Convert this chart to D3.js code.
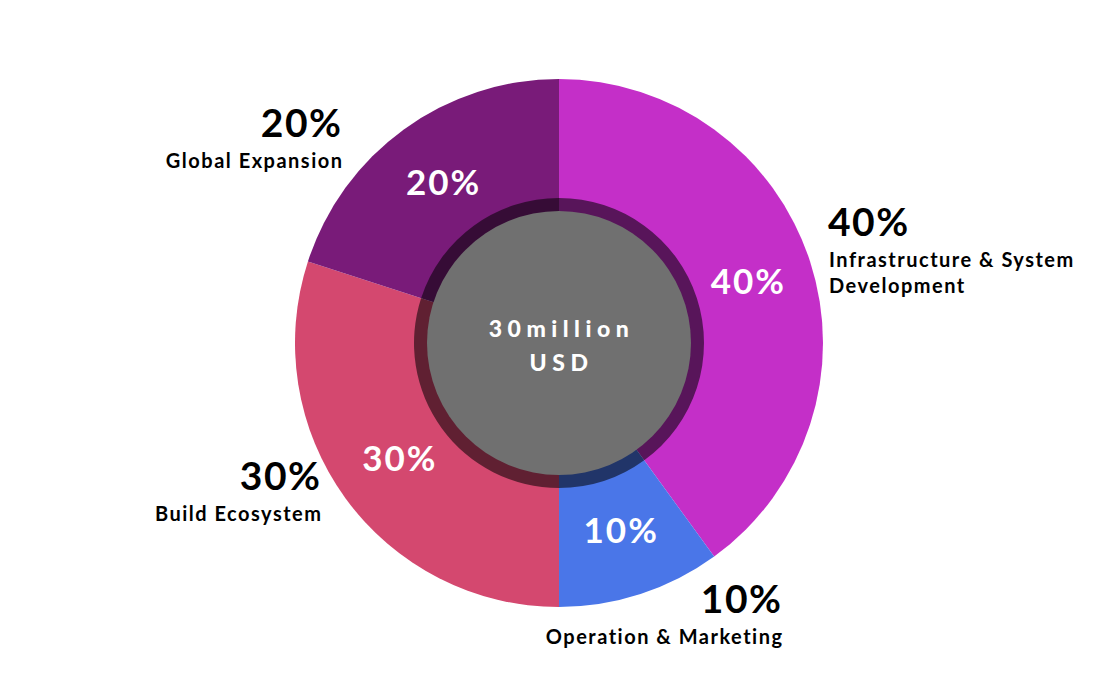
<!DOCTYPE html>
<html><head><meta charset="utf-8">
<script src="https://cdn.jsdelivr.net/npm/d3@7"></script>
<style>
html,body{margin:0;padding:0;background:#fff;}
svg{display:block;font-family:"Lato","Noto Sans",sans-serif;}
</style></head>
<body>
<svg id="chart" width="1102" height="686"></svg>
<script>
const categories = ["Infrastructure & System Development", "Operation & Marketing", "Build Ecosystem", "Global Expansion"];
const values = [40, 10, 30, 20];
const colors = ["#c42fc8", "#4a76e8", "#d4486f", "#791b79"];
const centerLines = ["30million", "USD"];
// outer label lines per category
const labelLines = [["Infrastructure & System", "Development"], ["Operation & Marketing"], ["Build Ecosystem"], ["Global Expansion"]];

const svg = d3.select("#chart");
const cx = 559, cy = 343;
const rOuter = 264, rRing = 145, rCenter = 132;
const g = svg.append("g").attr("transform", `translate(${cx},${cy})`);

const pie = d3.pie().sort(null).value(d => d).startAngle(0).endAngle(2 * Math.PI);
const arcs = pie(values);
const arcMain = d3.arc().innerRadius(0).outerRadius(rOuter);
const arcRing = d3.arc().innerRadius(rCenter - 1).outerRadius(rRing);

g.selectAll("path.slice").data(arcs).join("path")
  .attr("class", "slice").attr("d", arcMain).attr("fill", (d, i) => colors[i]);
g.selectAll("path.ring").data(arcs).join("path")
  .attr("class", "ring").attr("d", arcRing).attr("fill", "rgba(0,0,0,0.55)");
g.append("circle").attr("r", rCenter).attr("fill", "#707070");

const center = g.append("text").attr("text-anchor", "middle").attr("fill", "#fff")
  .attr("font-weight", 900).attr("font-size", 23).attr("letter-spacing", 5.5);
center.selectAll("tspan").data(centerLines).join("tspan")
  .attr("x", 2.5).attr("y", (d, i) => -6 + i * 34).text(d => d);

const arcLabel = d3.arc().innerRadius(198).outerRadius(198);
g.selectAll("text.pct").data(arcs).join("text")
  .attr("class", "pct")
  .attr("transform", d => { const c = arcLabel.centroid(d); return `translate(${c[0] + 1},${c[1] + 12})`; })
  .attr("text-anchor", "middle").attr("fill", "#fff").attr("font-weight", "bold").attr("font-size", 35)
  .attr("letter-spacing", 2)
  .text(d => d.data + "%");

const outer = [
  {x: 828, y: 236, anchor: "start"},
  {x: 781, y: 613, anchor: "end"},
  {x: 320, y: 490, anchor: "end"},
  {x: 341, y: 137, anchor: "end"}
];
outer.forEach((o, i) => {
  const t = svg.append("text").attr("text-anchor", o.anchor).attr("fill", "#000").attr("font-weight", "bold");
  t.append("tspan").attr("x", o.x + (o.anchor === "end" ? 1.5 : 0)).attr("y", o.y).attr("font-size", 39)
    .attr("letter-spacing", 1.5).text(values[i] + "%");
  labelLines[i].forEach((l, j) => {
    t.append("tspan").attr("x", o.x + (o.anchor === "end" ? 2.5 : 1)).attr("y", o.y + 31 + j * 26)
      .attr("font-size", 20).attr("letter-spacing", 1.5).text(l);
  });
});
</script>
</body></html>
